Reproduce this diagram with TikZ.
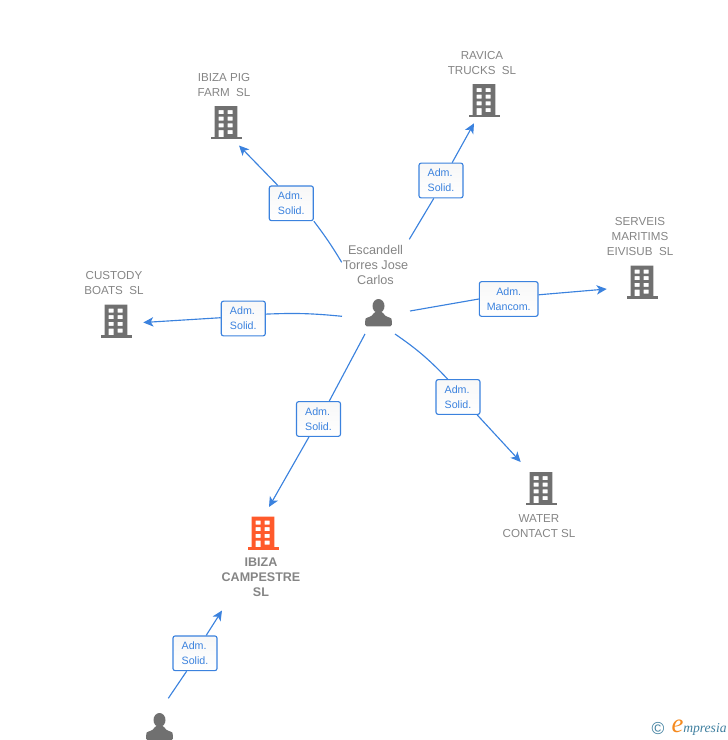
\documentclass[tikz,border=0pt]{standalone}
\usepackage{fontspec}
\setmainfont{Liberation Sans}
\newfontfamily\logofont{Liberation Serif}
\usetikzlibrary{arrows.meta}
\definecolor{linkblue}{HTML}{3B82DE}
\definecolor{iconblack}{HTML}{707070}
\definecolor{textgray}{HTML}{858585}
\definecolor{mainorange}{HTML}{FF5A2B}
\definecolor{logoteal}{HTML}{3F7F9F}
\definecolor{logoorange}{HTML}{F58A1F}
\tikzstyle{wire} = [-{Stealth[length=7.5pt,width=7pt,inset=2pt]},linkblue,line width=0.85pt]
\tikzstyle{plain} = [linkblue,line width=0.85pt]
\tikzstyle{adm} = [draw=linkblue, rectangle, rounded corners=1.6pt, line width=0.85pt, minimum width=33pt, minimum height=26pt, inner sep=0pt, top color=black!3, bottom color=white, text=linkblue, align=left, font=\fontsize{8}{11.25}\selectfont]
\tikzstyle{firm} = [text=textgray, align=center, inner sep=0pt, font=\fontsize{8.7}{11.25}\selectfont]
\tikzset{
  bldg/.pic={
    \fill[pic actions, even odd rule] (-11.3,-16.5) rectangle (11.3,14.5)
      (-7.3,-12.5) rectangle (-2.3,-8.5) (1.7,-12.5) rectangle (6.7,-8.5)
      (-7.3,-5.8) rectangle (-2.3,-1.8) (1.7,-5.8) rectangle (6.7,-1.8)
      (-7.3,0.8) rectangle (-2.3,4.8) (1.7,0.8) rectangle (6.7,4.8)
      (-7.3,7.5) rectangle (-2.3,14.5) (1.7,7.5) rectangle (6.7,11.5);
    \fill[pic actions] (-15.5,14.3) rectangle (15.5,16.8);
  },
  pers/.pic={
    \fill[iconblack] (0,-7) ellipse (6 and 7);
    \fill[iconblack, rounded corners=1.2pt] (-13.4,13.4) -- (-13.4,7) .. controls (-12.5,4.5) and (-6,4) .. (-4.7,-1) -- (4.7,-1) .. controls (6,4) and (12.5,4.5) .. (13.4,7) -- (13.4,13.4) -- cycle;
  }
}
\begin{document}
\begin{tikzpicture}[x=0.75pt,y=-0.75pt]
    \useasboundingbox (0,0) rectangle (728,740);
    \clip (0,0) rectangle (728,740);
    \pic[fill=iconblack] at (226,122.5) {bldg};
    \pic[fill=iconblack] at (484,100.5) {bldg};
    \pic[fill=iconblack] at (642,282) {bldg};
    \pic[fill=iconblack] at (116,321) {bldg};
    \pic[fill=iconblack] at (541,488.5) {bldg};
    \pic[fill=mainorange] at (263,533) {bldg};
    \pic at (378.5,313) {pers};
    \pic at (159.5,727) {pers};
    \node[firm] (pig) at (224,85) {IBIZA PIG\\FARM\ \ SL};
    \node[firm] (ravica) at (482,63) {RAVICA\\TRUCKS\ \ SL};
    \node[firm] (serveis) at (640,236.5) {SERVEIS\\MARITIMS\\EIVISUB\ \ SL};
    \node[firm] (custody) at (114,283) {CUSTODY\\BOATS\ \ SL};
    \node[firm] (water) at (539,526) {WATER\\CONTACT SL};
    \node[firm, font=\fontsize{9.4}{11.25}\selectfont\bfseries] (campestre) at (261,577) {IBIZA\\CAMPESTRE\\SL};
    \node[firm, font=\fontsize{9.5}{11.25}\selectfont] (escandell) at (375.5,265) {Escandell\\Torres Jose\\Carlos};
    \node[adm] (pigbox) at (291.3,203.3) {Adm.\\Solid.};
    \node[adm] (ravicabox) at (441,180.5) {Adm.\\Solid.};
    \node[adm, minimum width=44pt, align=center] (serveisbox) at (508.7,299) {Adm.\\Mancom.};
    \node[adm] (custodybox) at (243.3,318.5) {Adm.\\Solid.};
    \node[adm] (waterbox) at (458,397) {Adm.\\Solid.};
    \node[adm] (campestrebox) at (318.5,419) {Adm.\\Solid.};
    \node[adm] (lowerbox) at (195,653.3) {Adm.\\Solid.};
    \coordinate (pigfrom) at (341.7,262.3);
    \coordinate (pigto) at (239,145.5);
    \coordinate (ravicafrom) at (409.3,239.3);
    \coordinate (ravicato) at (474,123.3);
    \coordinate (serveisfrom) at (410,311);
    \coordinate (serveisto) at (606.7,289);
    \coordinate (custodyfrom) at (342,316.3);
    \coordinate (custodyto) at (143.3,322.5);
    \coordinate (waterfrom) at (395,334);
    \coordinate (waterto) at (520.7,462);
    \coordinate (campestrefrom) at (365,334);
    \coordinate (campestreto) at (269,507);
    \coordinate (lowerfrom) at (168.3,698.3);
    \coordinate (lowerto) at (222,610.5);
    \draw[plain] (pigfrom) to[bend right=3] (pigbox.south east);
    \draw[wire] (pigbox.127) -- (pigto);
    \draw[plain] (ravicafrom) -- (ravicabox.-112);
    \draw[wire] (ravicabox.58) -- (ravicato);
    \draw[plain] (serveisfrom) -- (serveisbox.west);
    \draw[wire] (serveisbox.8) -- (serveisto);
    \draw[plain] (custodyfrom) to[bend right=4] (custodybox.11);
    \draw[wire] (custodybox.178) -- (custodyto);
    \draw[plain] (waterfrom) to[bend left=6] (waterbox.120);
    \draw[wire] (waterbox.-43) -- (waterto);
    \draw[plain] (campestrefrom) -- (campestrebox.59);
    \draw[wire] (campestrebox.-118) -- (campestreto);
    \draw[plain] (lowerfrom) -- (lowerbox.-115);
    \draw[wire] (lowerbox.58) -- (lowerto);
    \node[text=logoteal, inner sep=0pt, font=\fontsize{13}{14}\selectfont] (copymark) at (658,729) {©};
    \node[text=logoorange, inner sep=0pt, font=\logofont\fontsize{20}{20}\selectfont\itshape] (logoe) at (677.5,726.5) {e};
    \node[text=logoteal, anchor=west, inner sep=0pt, font=\logofont\fontsize{10.2}{12}\selectfont\itshape] (logotext) at (683,729.5) {mpresia};
  \end{tikzpicture}
\end{document}
